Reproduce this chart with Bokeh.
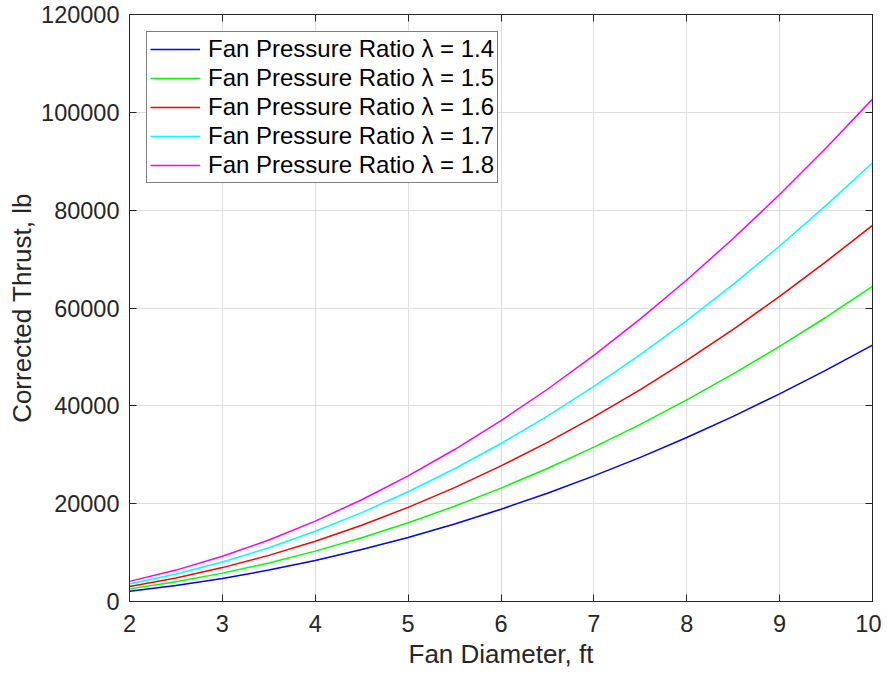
from bokeh.plotting import figure
from bokeh.models import (LinearAxis, Range1d, FixedTicker, Legend, LegendItem,
                          BasicTickFormatter, CustomJSTickFormatter)
from bokeh.embed import file_html
from bokeh.resources import INLINE

# Fan diameter (ft)
diameter = [2, 2.5, 3, 3.5, 4, 4.5, 5, 5.5, 6, 6.5, 7, 7.5, 8, 8.5, 9, 9.5, 10]

# Corrected thrust (lb)
thrust_14 = [2100, 3280, 4720, 6420, 8390, 10610, 13100, 15850, 18860, 22140,
             25680, 29470, 33530, 37850, 42440, 47290, 52400]
thrust_15 = [2580, 4020, 5800, 7890, 10300, 13040, 16100, 19480, 23180, 27200,
             31560, 36220, 41210, 46520, 52160, 58110, 64400]
thrust_16 = [3080, 4810, 6930, 9430, 12320, 15590, 19250, 23290, 27720, 32530,
             37730, 43310, 49280, 55630, 62370, 69490, 76900]
thrust_17 = [3590, 5610, 8080, 10990, 14350, 18170, 22430, 27140, 32300, 37910,
             43960, 50470, 57420, 64820, 72670, 80970, 89700]
thrust_18 = [4110, 6420, 9240, 12580, 16430, 20800, 25680, 31070, 36970, 43390,
             50320, 57770, 65730, 74200, 83190, 92690, 102700]

series_labels = ["Fan Pressure Ratio \u03bb = 1.4", "Fan Pressure Ratio \u03bb = 1.5",
                 "Fan Pressure Ratio \u03bb = 1.6", "Fan Pressure Ratio \u03bb = 1.7",
                 "Fan Pressure Ratio \u03bb = 1.8"]
series_colors = ["#0000ff", "#00ff00", "#ff0000", "#00ffff", "#ff00ff"]
series_values = [thrust_14, thrust_15, thrust_16, thrust_17, thrust_18]

x_ticks = [2, 3, 4, 5, 6, 7, 8, 9, 10]
y_ticks = [0, 20000, 40000, 60000, 80000, 100000, 120000]

FONT = "Liberation Sans"
AX = "#262626"

W, H = 881, 673
BL, BR, BT, BB = 129, 9, 14, 72
p = figure(width=W, height=H, output_backend="svg", toolbar_location=None,
           x_range=Range1d(2, 10), y_range=Range1d(0, 120000),
           min_border_left=BL, min_border_right=BR, min_border_top=BT, min_border_bottom=BB,
           x_axis_label="Fan Diameter, ft", y_axis_label="Corrected Thrust, lb")
p.background_fill_color = "white"
p.border_fill_color = "white"
p.outline_line_color = AX
p.outline_line_width = 1

for ax, ticks in ((p.xaxis[0], x_ticks), (p.yaxis[0], y_ticks)):
    ax.ticker = FixedTicker(ticks=ticks)
    ax.major_tick_in = 7
    ax.major_tick_out = 0
    ax.minor_tick_in = 0
    ax.minor_tick_out = 0
    ax.axis_line_color = AX
    ax.major_tick_line_color = AX
    ax.major_label_text_color = AX
    ax.major_label_text_font = FONT
    ax.major_label_text_font_size = "23.5px"
    ax.axis_label_text_font = FONT
    ax.axis_label_text_font_size = "26px"
    ax.axis_label_text_font_style = "normal"
    ax.axis_label_text_color = AX
p.yaxis[0].formatter = BasicTickFormatter(use_scientific=False)
p.xaxis[0].major_label_standoff = 13
p.xaxis[0].axis_label_standoff = 4
p.yaxis[0].major_label_standoff = 10
p.yaxis[0].axis_label_standoff = 1

# mirrored ticks on top and right (no labels)
blank = CustomJSTickFormatter(code="return ''")
top = LinearAxis(ticker=FixedTicker(ticks=x_ticks), formatter=blank,
                 major_tick_in=7, major_tick_out=0, minor_tick_in=0, minor_tick_out=0,
                 axis_line_color=AX, major_tick_line_color=AX, major_label_standoff=0)
right = LinearAxis(ticker=FixedTicker(ticks=y_ticks), formatter=blank,
                   major_tick_in=7, major_tick_out=0, minor_tick_in=0, minor_tick_out=0,
                   axis_line_color=AX, major_tick_line_color=AX, major_label_standoff=0)
p.add_layout(top, "above")
p.add_layout(right, "right")

p.xgrid.grid_line_color = "#dedede"
p.ygrid.grid_line_color = "#dedede"
p.xgrid.ticker = FixedTicker(ticks=x_ticks)
p.ygrid.ticker = FixedTicker(ticks=y_ticks)

items = []
for lab, col, vals in zip(series_labels, series_colors, series_values):
    r = p.line(diameter, vals, line_color=col, line_width=1.5)
    items.append(LegendItem(label=lab, renderers=[r]))

frame_h = H - BT - BB
legend = Legend(items=items, location=(17, frame_h - 169))
legend.label_text_font = FONT
legend.label_text_font_size = "24px"
legend.label_text_color = "#000000"
legend.glyph_width = 50
legend.glyph_height = 24
legend.label_height = 24
legend.spacing = 1
legend.padding = 3
legend.margin = 0
legend.label_standoff = 8
legend.border_line_color = "#000000"
legend.border_line_width = 1
legend.background_fill_color = "white"
legend.background_fill_alpha = 1
p.add_layout(legend, "center")

open("out.html", "w").write(file_html(p, INLINE))
